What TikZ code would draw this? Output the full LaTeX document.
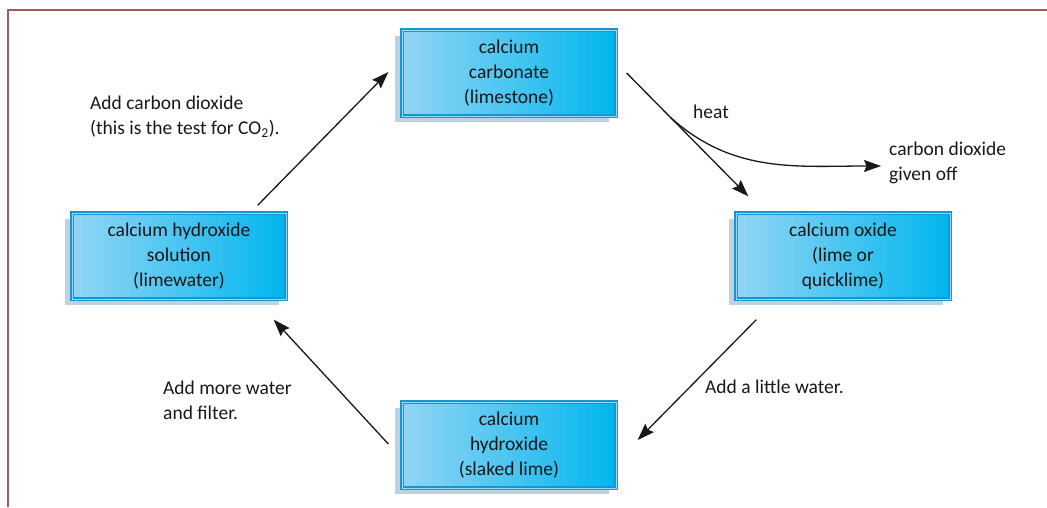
\documentclass[tikz,border=0pt]{standalone}
\usepackage{fontspec}
\setmainfont{Carlito}
\usetikzlibrary{arrows.meta,shadows}
\definecolor{boxleft}{HTML}{93D5F5}
\definecolor{boxright}{HTML}{00B6EE}
\definecolor{boxline}{HTML}{1596D4}
\definecolor{boxinner}{HTML}{9ADAF6}
\definecolor{boxshade}{HTML}{BFD0DF}
\definecolor{framered}{HTML}{A65A5A}
\definecolor{txt}{HTML}{1A1718}
\begin{document}
\begin{tikzpicture}[x=1pt,y=1pt,
  stagebox/.style={draw=boxline, line width=1.3pt, double=boxinner, double distance=0.9pt,
    left color=boxleft, right color=boxright,
    minimum width=214pt, minimum height=86pt, align=center, text=txt,
    font=\fontsize{19.5}{25}\selectfont,
    drop shadow={shadow xshift=-7pt, shadow yshift=-6pt, fill=boxshade, opacity=1}},
  note/.style={align=left, inner sep=0pt, anchor=west, text=txt, font=\fontsize{19.5}{25}\selectfont},
  link/.style={draw, line width=1.3pt, txt, -{Stealth[length=17pt,width=12pt,inset=2.5pt]}}]
\useasboundingbox (0,0) rectangle (1047,507);
\draw[framered, line width=2pt] (8,0) -- (8,497) -- (1047,497);

\node[stagebox] (carb) at (509,434) {calcium\\carbonate\\(limestone)};
\node[stagebox] (oxide) at (843,251) {calcium oxide\\(lime or\\quicklime)};
\node[stagebox] (slaked) at (509,62) {calcium\\hydroxide\\(slaked lime)};
\node[stagebox] (lime) at (179,251) {calcium hydroxide\\solution\\(limewater)};

\node[note] (addco2) at (90,390) {Add carbon dioxide\\(this is the test for CO\textsubscript{2}).};
\node[note] (heat) at (693,395) {heat};
\node[note] (co2) at (889,344) {carbon dioxide\\given off};
\node[note] (addlittle) at (705,120) {Add a little water.};
\node[note] (addmore) at (163,107) {Add more water\\and filter.};

\path[link] ([shift={(-29,7)}]lime.north east) -- ([shift={(-13,1)}]carb.west);
\path[link] ([shift={(10,0)}]carb.east) -- coordinate[pos=0.36] (branch) ([shift={(13,16)}]oxide.north west);
\path[link] (branch) to[out=-42, in=180] ([shift={(-8,-3)}]co2.west);
\path[link] ([shift={(21,-20)}]oxide.south west) -- ([shift={(21,5)}]slaked.east);
\path[link] ([shift={(-13,1)}]slaked.west) -- ([shift={(-13,-20)}]lime.south east);
\end{tikzpicture}
\end{document}
